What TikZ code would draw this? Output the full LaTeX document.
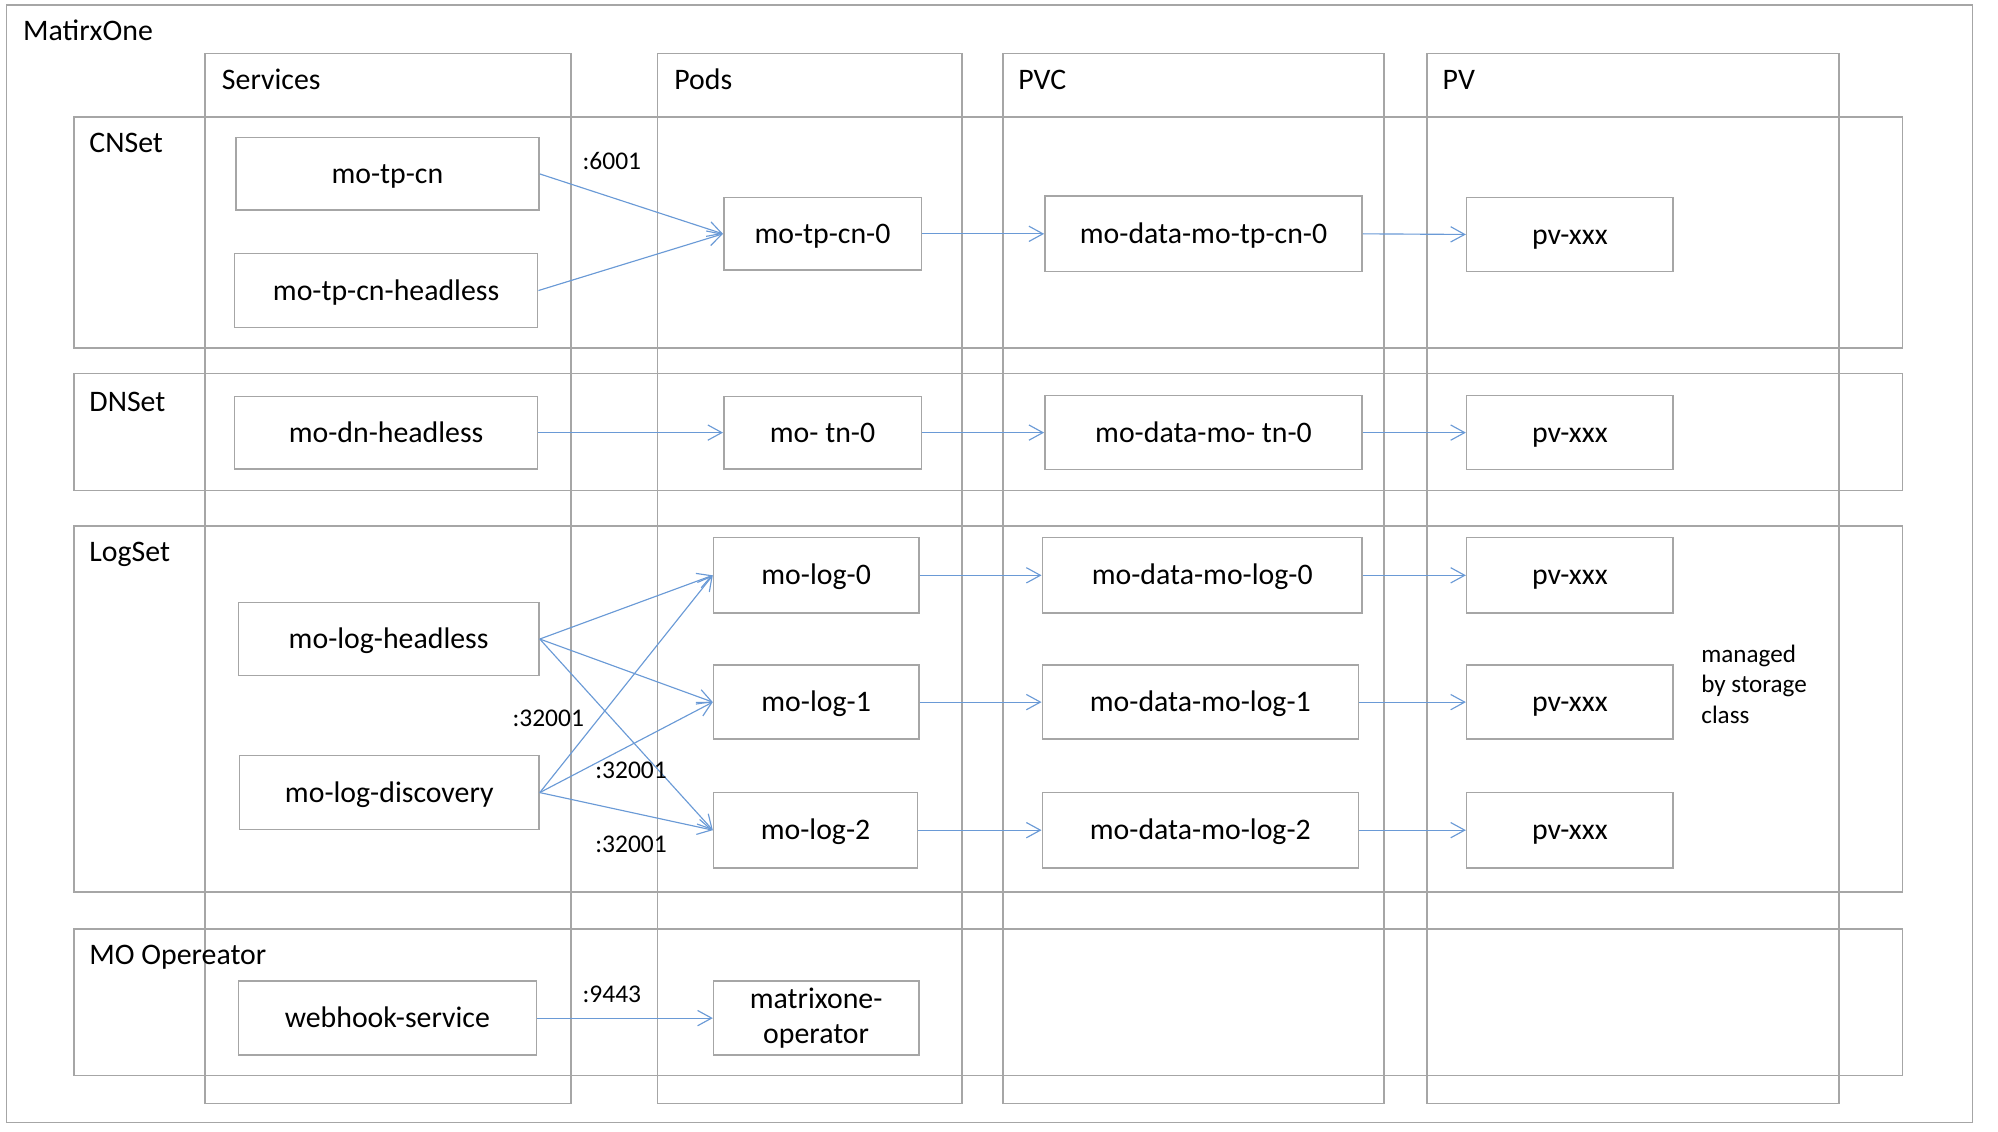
\documentclass[tikz,border=0pt]{standalone}
\usepackage{fontspec}
\setmainfont{Carlito}
\usetikzlibrary{arrows.meta}
\definecolor{linegray}{HTML}{A6A6A6}
\definecolor{arrowblue}{HTML}{6A9AD6}
\tikzset{
  frame/.style={draw=linegray, line width=1.2pt, inner sep=0pt},
  item/.style={draw=linegray, line width=1.2pt, fill=white, inner sep=0pt,
    font=\fontsize{23.4pt}{28pt}\selectfont, text height=15pt, text depth=0pt, align=center},
  item2/.style={draw=linegray, line width=1.2pt, fill=white, inner sep=0pt,
    font=\fontsize{23.4pt}{28pt}\selectfont, align=center},
  title/.style={anchor=base west, inner sep=0pt, font=\fontsize{23.4pt}{28pt}\selectfont},
  elabel/.style={anchor=base west, inner sep=0pt, font=\fontsize{20pt}{24pt}\selectfont},
  conn/.style={draw=arrowblue, line width=0.9pt, -{Straight Barb[length=11pt, width=12pt]}},
}
\begin{document}
\begin{tikzpicture}[x=1pt, y=-1pt]
\useasboundingbox (0,0) rectangle (1568,888);
% outer
\node[frame, minimum width=1543pt, minimum height=877pt] (outer) at (776.5,442.5) {};
\node[title] (tmo) at (18,32) {MatirxOne};
% columns
\node[frame, minimum width=287pt, minimum height=824pt] (colsvc) at (304.5,454) {};
\node[frame, minimum width=239pt, minimum height=824pt] (colpod) at (635.5,454) {};
\node[frame, minimum width=299pt, minimum height=824pt] (colpvc) at (936.5,454) {};
\node[frame, minimum width=323pt, minimum height=824pt] (colpv) at (1281.5,454) {};
\node[title] (tsvc) at (174,70) {Services};
\node[title] (tpod) at (529,70) {Pods};
\node[title] (tpvc) at (799,70) {PVC};
\node[title] (tpv) at (1132,70) {PV};
% rows
\node[frame, minimum width=1435pt, minimum height=181pt] (rowcn) at (775.5,182.5) {};
\node[frame, minimum width=1435pt, minimum height=92pt] (rowdn) at (775.5,339) {};
\node[frame, minimum width=1435pt, minimum height=287pt] (rowlog) at (775.5,556.5) {};
\node[frame, minimum width=1435pt, minimum height=115pt] (rowop) at (775.5,786.5) {};
\node[title] (tcn) at (70,120) {CNSet};
\node[title] (tdn) at (70,323) {DNSet};
\node[title] (tlog) at (70,441) {LogSet};
\node[title] (top) at (70,757) {MO Opereator};
% CNSet
\node[item, minimum width=238pt, minimum height=57pt] (tpcn) at (304,136.5) {mo-tp-cn};
\node[item, minimum width=238pt, minimum height=58pt] (tpcnh) at (303,228) {mo-tp-cn-headless};
\node[item, minimum width=155pt, minimum height=57pt] (tpcn0) at (645.5,183.5) {mo-tp-cn-0};
\node[item, minimum width=249pt, minimum height=59pt] (dtpcn0) at (944.5,183.5) {mo-data-mo-tp-cn-0};
\node[item, minimum width=162pt, minimum height=58pt] (pv1) at (1232,184) {pv-xxx};
% DNSet
\node[item, minimum width=238pt, minimum height=57pt] (dnh) at (303,339.5) {mo-dn-headless};
\node[item, minimum width=155pt, minimum height=57pt] (tn0) at (645.5,339.5) {mo- tn-0};
\node[item, minimum width=249pt, minimum height=58pt] (dtn0) at (944.5,339.5) {mo-data-mo- tn-0};
\node[item, minimum width=162pt, minimum height=58pt] (pv2) at (1232,339.5) {pv-xxx};
% LogSet
\node[item, minimum width=236pt, minimum height=57pt] (logh) at (305,501.5) {mo-log-headless};
\node[item, minimum width=235pt, minimum height=58pt] (logd) at (305.5,622) {mo-log-discovery};
\node[item, minimum width=161pt, minimum height=59pt] (log0) at (640.5,451.5) {mo-log-0};
\node[item, minimum width=161pt, minimum height=58pt] (log1) at (640.5,551) {mo-log-1};
\node[item, minimum width=160pt, minimum height=59pt] (log2) at (640,651.5) {mo-log-2};
\node[item, minimum width=251pt, minimum height=59pt] (dlog0) at (943.5,451.5) {mo-data-mo-log-0};
\node[item, minimum width=248pt, minimum height=58pt] (dlog1) at (942,551) {mo-data-mo-log-1};
\node[item, minimum width=248pt, minimum height=59pt] (dlog2) at (942,651.5) {mo-data-mo-log-2};
\node[item, minimum width=162pt, minimum height=59pt] (pv3) at (1232,451.5) {pv-xxx};
\node[item, minimum width=162pt, minimum height=58pt] (pv4) at (1232,551) {pv-xxx};
\node[item, minimum width=162pt, minimum height=59pt] (pv5) at (1232,651.5) {pv-xxx};
\node[anchor=west, inner sep=0pt, align=left, font=\fontsize{19.7pt}{24pt}\selectfont] (managed) at (1335,537) {managed\\by storage\\class};
% Operator
\node[item, minimum width=234pt, minimum height=58pt] (webhook) at (304,799) {webhook-service};
\node[item2, minimum width=161pt, minimum height=58pt] (operator) at (640.5,799) {matrixone-\\operator};
% connectors
\draw[conn] (tpcn.east) -- (tpcn0.west);
\draw[conn] (tpcnh.east) -- (tpcn0.west);
\draw[conn] (tpcn0.east) -- (dtpcn0.west);
\draw[conn] (dtpcn0.east) -- (pv1.west);
\draw[conn] (dnh.east) -- (tn0.west);
\draw[conn] (tn0.east) -- (dtn0.west);
\draw[conn] (dtn0.east) -- (pv2.west);
\draw[conn] (logh.east) -- (log0.west);
\draw[conn] (logh.east) -- (log1.west);
\draw[conn] (logh.east) -- (log2.west);
\draw[conn] (logd.east) -- (log0.west);
\draw[conn] (logd.east) -- (log1.west);
\draw[conn] (logd.east) -- (log2.west);
\draw[conn] (log0.east) -- (dlog0.west);
\draw[conn] (log1.east) -- (dlog1.west);
\draw[conn] (log2.east) -- (dlog2.west);
\draw[conn] (dlog0.east) -- (pv3.west);
\draw[conn] (dlog1.east) -- (pv4.west);
\draw[conn] (dlog2.east) -- (pv5.west);
\draw[conn] (webhook.east) -- (operator.west);
% edge labels
\node[elabel] (l6001) at (457,133) {:6001};
\node[elabel] (l32a) at (402,570) {:32001};
\node[elabel] (l32b) at (467,611) {:32001};
\node[elabel] (l32c) at (467,669) {:32001};
\node[elabel] (l9443) at (457,787) {:9443};
\end{tikzpicture}
\end{document}
